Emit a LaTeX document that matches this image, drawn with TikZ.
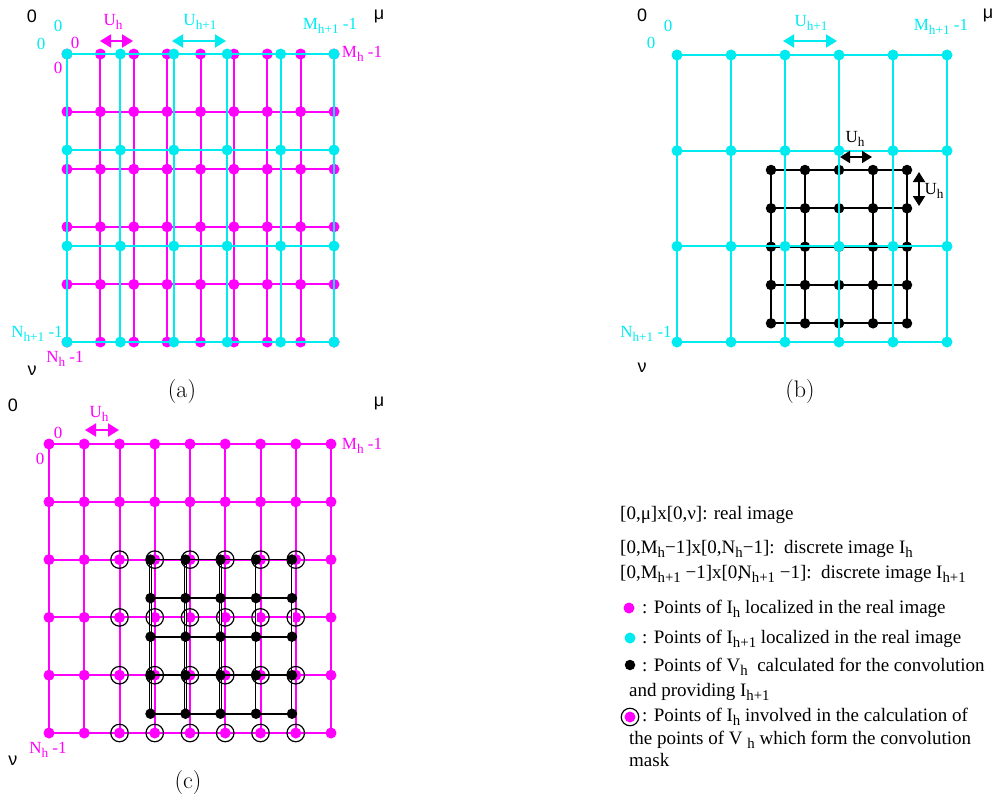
\documentclass[tikz,border=0pt]{standalone}
\usepackage{fontspec}
\usetikzlibrary{arrows.meta}
\newfontfamily\tms{Liberation Serif}
\newfontfamily\hlv{Liberation Sans}
\definecolor{mg}{RGB}{255,0,255}
\definecolor{cy}{RGB}{0,235,240}
\newcommand\sbs[1]{\raisebox{-0.24em}{\scalebox{0.78}{#1}}}
\begin{document}
\begin{tikzpicture}[x=1pt,y=-1pt,
  mgl/.style={draw=mg,line width=2pt},
  cyl/.style={draw=cy,line width=2pt},
  bkl/.style={draw=black,line width=1.7pt},
  bkdbl/.style={draw=black,line width=0.8pt,double=white,double distance=0.6pt},
  gdot/.style={circle,inner sep=0pt,minimum size=11pt},
  mgdot/.style={gdot,fill=mg},
  cydot/.style={gdot,fill=cy},
  bkdot/.style={gdot,fill=black,minimum size=10.5pt},
  ring/.style={circle,draw=black,line width=1.2pt,inner sep=0pt,minimum size=17.5pt},
  lbl/.style={inner sep=0pt,font=\tms\fontsize{17}{17}\selectfont},
  mlab/.style={lbl,text=mg},
  clab/.style={lbl,text=cy},
  blab/.style={inner sep=0pt,font=\hlv\fontsize{18}{18}\selectfont},
  capt/.style={inner sep=0pt,font=\fontsize{24}{24}\selectfont},
  leg/.style={inner sep=0pt,anchor=base west,font=\tms\fontsize{19}{22}\selectfont},
  arrbig/.style={{Triangle[length=11pt,width=13pt]}-{Triangle[length=11pt,width=13pt]},line width=2pt},
  arrsm/.style={{Triangle[length=10pt,width=12pt]}-{Triangle[length=10pt,width=12pt]},line width=1.8pt},
]
\useasboundingbox (0,0) rectangle (998,804);

% ---------------- panel (a) ----------------
\foreach \x [count=\i] in {67,100.4,133.8,167.1,200.5,233.9,267.3,300.6,334}
  \foreach \y [count=\j] in {54,111.6,169.2,226.8,284.4,342}
    \coordinate (am-\i-\j) at (\x,\y);
\foreach \x [count=\i] in {67,120.4,173.8,227.2,280.6,334}
  \foreach \y [count=\j] in {54,150,246,342}
    \coordinate (ac-\i-\j) at (\x,\y);
\foreach \i in {1,...,9} \draw[mgl] (am-\i-1) -- (am-\i-6);
\foreach \j in {1,...,6} \draw[mgl] (am-1-\j) -- (am-9-\j);
\foreach \i in {1,...,9} \foreach \j in {1,...,6} \node[mgdot] (amd-\i-\j) at (am-\i-\j) {};
\foreach \i in {1,...,6} \draw[cyl] (ac-\i-1) -- (ac-\i-4);
\foreach \j in {1,...,4} \draw[cyl] (ac-1-\j) -- (ac-6-\j);
\foreach \i in {1,...,6} \foreach \j in {1,...,4} \node[cydot] (acd-\i-\j) at (ac-\i-\j) {};

\coordinate (aua1) at (100,41); \coordinate (aua2) at (133,41);
\draw[arrbig,mg] (aua1) -- (aua2);
\coordinate (aub1) at (172,41); \coordinate (aub2) at (226,41);
\draw[arrbig,cy] (aub1) -- (aub2);

\node[blab] (a0) at (32,16) {0};
\node[blab] (amu) at (379,16) {μ};
\node[clab] (ac0a) at (58,26) {0};
\node[mlab] (auh) at (113,22) {U\sbs{h}};
\node[clab] (auh1) at (200,22) {U\sbs{h+1}};
\node[clab] (aM1) at (330,26) {M\sbs{h+1} -1};
\node[clab] (ac0b) at (41,44) {0};
\node[mlab] (am0a) at (75,43) {0};
\node[mlab] (am0b) at (58,68) {0};
\node[mlab] (aM) at (362,54) {M\sbs{h} -1};
\node[clab] (aN1) at (37,334) {N\sbs{h+1} -1};
\node[mlab] (aN) at (65,359) {N\sbs{h} -1};
\node[blab] (anu) at (32,371) {ν};
\node[capt] (acap) at (182,392) {(a)};

% ---------------- panel (b) ----------------
\foreach \x [count=\i] in {677,731,785,839,893,947}
  \foreach \y [count=\j] in {55,150.7,246.3,342}
    \coordinate (bc-\i-\j) at (\x,\y);
\foreach \x [count=\i] in {771,805,839,873,907}
  \foreach \y [count=\j] in {170,208.3,246.7,285,323.3}
    \coordinate (bk-\i-\j) at (\x,\y);
\foreach \i in {1,...,5} \draw[bkl] (bk-\i-1) -- (bk-\i-5);
\foreach \j in {1,...,5} \draw[bkl] (bk-1-\j) -- (bk-5-\j);
\foreach \i in {1,...,5} \foreach \j in {1,...,5} \node[bkdot] (bkd-\i-\j) at (bk-\i-\j) {};
\foreach \i in {1,...,6} \draw[cyl] (bc-\i-1) -- (bc-\i-4);
\foreach \j in {1,...,4} \draw[cyl] (bc-1-\j) -- (bc-6-\j);
\foreach \i in {1,...,6} \foreach \j in {1,...,4} \node[cydot] (bcd-\i-\j) at (bc-\i-\j) {};

\coordinate (bua1) at (783,41); \coordinate (bua2) at (837,41);
\draw[arrbig,cy] (bua1) -- (bua2);
\coordinate (bub1) at (840,157); \coordinate (bub2) at (872,157);
\draw[arrsm,black] (bub1) -- (bub2);
\coordinate (buc1) at (919,172); \coordinate (buc2) at (919,206);
\draw[arrsm,black] (buc1) -- (buc2);

\node[blab] (b0) at (642,15) {0};
\node[clab] (bc0a) at (668,26) {0};
\node[clab] (bc0b) at (651,43) {0};
\node[clab] (buh1) at (811,23) {U\sbs{h+1}};
\node[clab] (bM1) at (941,27) {M\sbs{h+1} -1};
\node[blab] (bmu) at (988,15) {μ};
\node[lbl] (buh) at (855,139) {U\sbs{h}};
\node[lbl] (buv) at (934,191) {U\sbs{h}};
\node[clab] (bN1) at (646,334) {N\sbs{h+1} -1};
\node[blab] (bnu) at (642,368) {ν};
\node[capt] (bcap) at (800,392) {(b)};

% ---------------- panel (c) ----------------
\foreach \x [count=\i] in {49,84.25,119.5,154.75,190,225.25,260.5,295.75,331}
  \foreach \y [count=\j] in {444,501.8,559.6,617.4,675.2,733}
    \coordinate (cm-\i-\j) at (\x,\y);
\foreach \x [count=\i] in {150.5,185.5,220.5,256,292}
  \foreach \y [count=\j] in {559.6,598.1,636.7,675.2,713.7}
    \coordinate (ck-\i-\j) at (\x,\y);
\foreach \i in {1,...,9} \draw[mgl] (cm-\i-1) -- (cm-\i-6);
\foreach \j in {1,...,6} \draw[mgl] (cm-1-\j) -- (cm-9-\j);
\foreach \i in {1,...,9} \foreach \j in {1,...,6} \node[mgdot] (cmd-\i-\j) at (cm-\i-\j) {};
\foreach \i in {1,...,5} \draw[bkdbl] (ck-\i-1) -- (ck-\i-5);
\foreach \j in {1,...,5} \draw[bkl] (ck-1-\j) -- (ck-5-\j);
\foreach \i in {1,...,5} \foreach \j in {1,...,5} \node[bkdot] (ckd-\i-\j) at (ck-\i-\j) {};
\foreach \i in {3,...,8} \foreach \j in {3,...,6} \node[ring] (cr-\i-\j) at (cm-\i-\j) {};

\coordinate (cua1) at (85,430); \coordinate (cua2) at (119,430);
\draw[arrbig,mg] (cua1) -- (cua2);

\node[blab] (c0) at (13,405) {0};
\node[blab] (cmu) at (379,403) {μ};
\node[mlab] (cuh) at (99,414) {U\sbs{h}};
\node[mlab] (cm0a) at (58,433) {0};
\node[mlab] (cm0b) at (40,459) {0};
\node[mlab] (cM) at (362,446) {M\sbs{h} -1};
\node[mlab] (cN) at (48,750) {N\sbs{h} -1};
\node[blab] (cnu) at (13,761) {ν};
\node[capt] (ccap) at (188,782) {(c)};

% ---------------- legend ----------------
\node[leg] (l1) at (620,519) {[0,μ]x[0,ν]: real image};
\node[leg] (l2) at (620,553) {[0,M\sbs{h}−1]x[0,N\sbs{h}−1]:\ \ discrete image I\sbs{h}};
\node[leg] (l3) at (620,578) {[0,M\sbs{h+1} −1]x[0,\kern-4pt N\sbs{h+1} −1]:\ \ discrete image I\sbs{h+1}};
\node[mgdot] (ld1) at (629,608) {};
\node[leg] (l4) at (642,613) {: Points of I\sbs{h} localized in the real image};
\node[cydot] (ld2) at (630,638) {};
\node[leg] (l5) at (642,643) {: Points of I\sbs{h+1} localized in the real image};
\node[bkdot] (ld3) at (630,665) {};
\node[leg] (l6) at (642,671) {: Points of V\sbs{h}\ \ calculated for the convolution};
\node[leg] (l7) at (629,696) {and providing I\sbs{h+1}};
\node[mgdot] (ld4) at (630,717) {};
\node[ring] (lr4) at (630,717) {};
\node[leg] (l8) at (642,721) {: Points of I\sbs{h} involved in the calculation of};
\node[leg] (l9) at (629,744) {the points of V \sbs{h} which form the convolution};
\node[leg] (l10) at (629,766) {mask};
\end{tikzpicture}
\end{document}
